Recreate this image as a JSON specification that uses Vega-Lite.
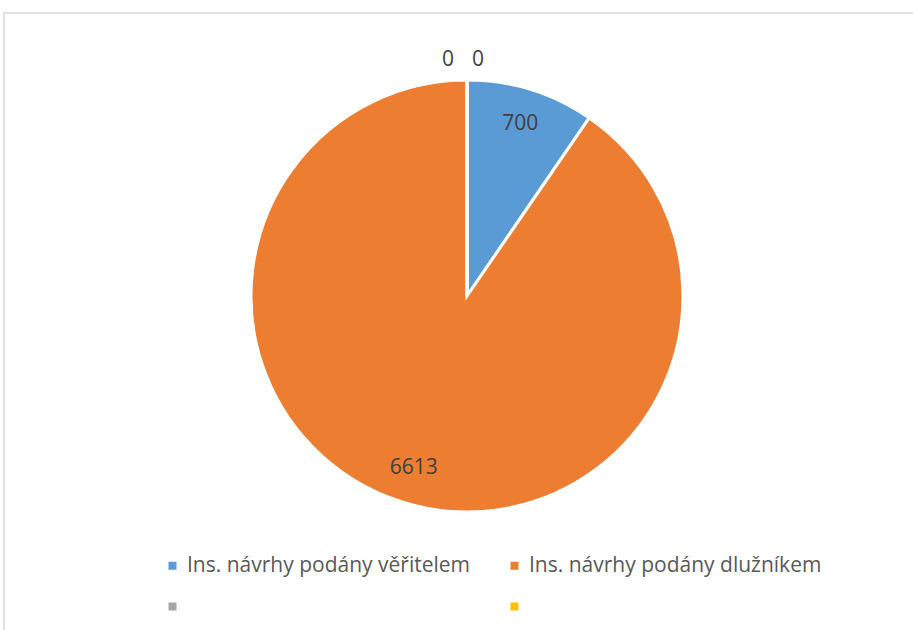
{
  "$schema": "https://vega.github.io/schema/vega-lite/v6.json",
  "width": 914,
  "height": 622,
  "autosize": {"type": "none"},
  "padding": {"left": 4, "top": 13, "right": 0, "bottom": 0},
  "background": "white",
  "view": {"stroke": "#D9D9D9", "strokeWidth": 1.5},
  "config": {"view": {"stroke": "#D9D9D9", "strokeWidth": 1.5}},
  "data": {
    "values": [
      {"kategorie": "Ins. návrhy podány věřitelem", "pocet": 700, "poradi": 1},
      {"kategorie": "Ins. návrhy podány dlužníkem", "pocet": 6613, "poradi": 2},
      {"kategorie": "3", "pocet": 0, "poradi": 3},
      {"kategorie": "4", "pocet": 0, "poradi": 4}
    ]
  },
  "encoding": {
    "theta": {"field": "pocet", "type": "quantitative", "stack": true},
    "order": {"field": "poradi", "type": "quantitative"}
  },
  "layer": [
    {
      "mark": {"type": "arc", "radius": 216, "x": 463, "y": 283, "stroke": "white", "strokeWidth": 3},
      "encoding": {
        "color": {
          "field": "kategorie",
          "type": "nominal",
          "scale": {
            "domain": ["Ins. návrhy podány věřitelem", "Ins. návrhy podány dlužníkem", "3", "4"],
            "range": ["#5B9BD5", "#ED7D31", "#A5A5A5", "#FFC000"]
          },
          "legend": {
            "orient": "none",
            "legendX": 158,
            "legendY": 542,
            "columns": 2,
            "direction": "horizontal",
            "title": null,
            "symbolType": "square",
            "symbolSize": 64,
            "symbolStrokeWidth": 0,
            "labelFont": "Open Sans",
            "labelFontSize": 21,
            "labelColor": "#595959",
            "labelOffset": 4,
            "labelLimit": 500,
            "columnPadding": 33,
            "rowPadding": 19,
            "labelExpr": "datum.label == '3' || datum.label == '4' ? '' : datum.label"
          }
        }
      }
    },
    {
      "mark": {
        "type": "text",
        "x": 463,
        "y": 283,
        "radius": {"expr": "datum.pocet == 0 ? 236 : 180"},
        "dx": {"expr": "datum.poradi == 3 ? -19 : datum.poradi == 4 ? 11 : 0"},
        "fill": "#404040",
        "font": "Open Sans",
        "fontSize": 21
      },
      "encoding": {"text": {"field": "pocet", "type": "quantitative"}}
    }
  ]
}
